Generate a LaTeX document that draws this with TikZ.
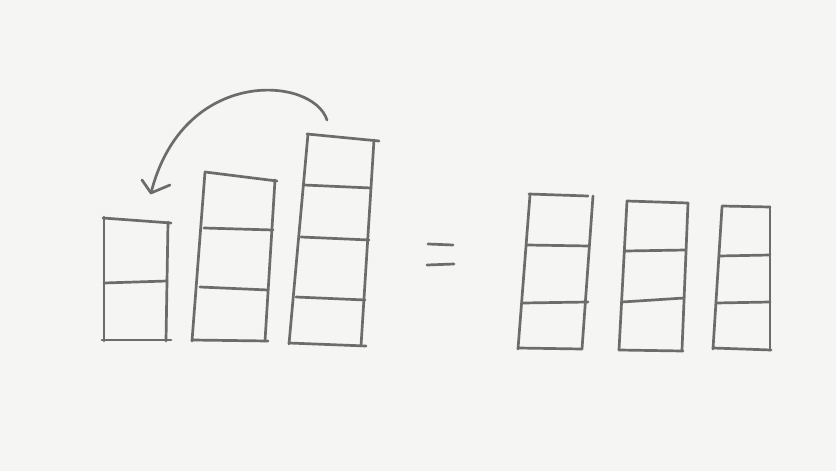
\documentclass[tikz,border=0pt]{standalone}
\usetikzlibrary{calc}
\definecolor{paper}{HTML}{F5F5F3}
\definecolor{pencil}{HTML}{6C6C6C}
\tikzset{
  pen/.style={draw=pencil, line width=2.7pt, line cap=round, line join=round},
}
\begin{document}
\begin{tikzpicture}[x=1pt,y=-1pt]
\fill[paper] (0,0) rectangle (836,471);
\useasboundingbox (0,0) rectangle (836,471);
% ---- stack 1 (2 blocks)
\draw[pen] (104,217) -- (104,341);
\draw[pen] (168,222) -- (166,341);
\draw[pen] (103,218) -- (171,223);
\draw[pen] (104,283) -- (167,281);
\draw[pen] (102,340) -- (171,340);
% ---- stack 2 (3 blocks)
\draw[pen] (205,172) -- (192,341);
\draw[pen] (275,180) -- (265,341);
\draw[pen] (205,172) -- (277,181);
\draw[pen] (204,228) -- (273,230);
\draw[pen] (200,287) -- (268,290);
\draw[pen] (192,340) -- (268,341);
% ---- stack 3 (4 blocks)
\draw[pen] (308,134) -- (289,344);
\draw[pen] (374,140) -- (361,346);
\draw[pen] (307,134) -- (379,141);
\draw[pen] (304,185) -- (371,188);
\draw[pen] (301,237) -- (369,240);
\draw[pen] (296,297) -- (365,300);
\draw[pen] (289,343) -- (366,346);
% ---- arrow
\coordinate (as) at (327,120);
\coordinate (at) at (151,193);
\coordinate (aa) at (142,180);
\coordinate (ab) at (170,185);
\draw[pen] (as) .. controls (313,76) and (183,66) .. (at);
\draw[pen] (aa) -- (at) -- (ab);
% ---- equals
\draw[pen] (428,244) -- (453,245);
\draw[pen] (427,265) -- (454,264);
% ---- stack A
\draw[pen] (530,195) -- (518,349);
\draw[pen] (593,196) -- (582,349);
\draw[pen] (529,194) -- (588,196);
\draw[pen] (527,245) -- (589,246);
\draw[pen] (523,303) -- (588,302);
\draw[pen] (518,348) -- (582,349);
% ---- stack B
\draw[pen] (627,201) -- (619,350);
\draw[pen] (688,203) -- (682,350);
\draw[pen] (627,201) -- (688,203);
\draw[pen] (625,251) -- (686,250);
\draw[pen] (622,302) -- (684,298);
\draw[pen] (619,350) -- (683,351);
% ---- stack C
\draw[pen] (722,207) -- (713,349);
\draw[pen] (770,207) -- (770,350);
\draw[pen] (722,206) -- (770,207);
\draw[pen] (719,256) -- (770,255);
\draw[pen] (716,303) -- (770,302);
\draw[pen] (713,348) -- (771,350);
\end{tikzpicture}
\end{document}
